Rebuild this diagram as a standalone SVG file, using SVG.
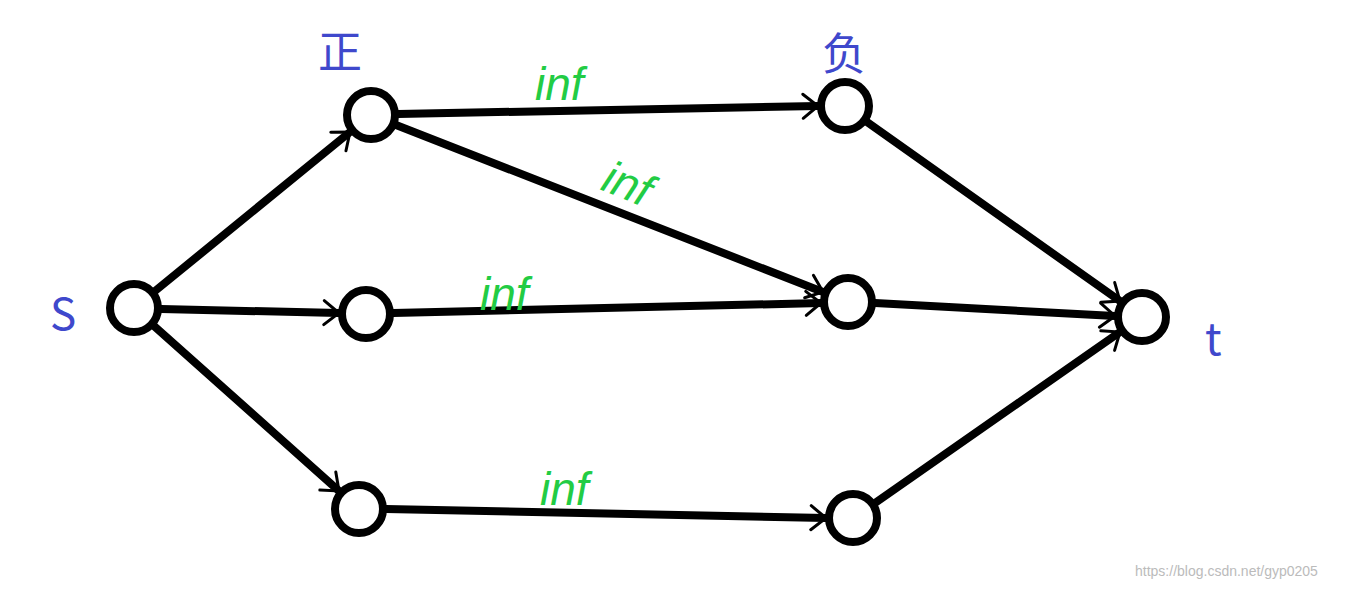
<svg xmlns="http://www.w3.org/2000/svg" width="1350" height="589" viewBox="0 0 1350 589">
<style>
.n{fill:#fff;stroke:#000;stroke-width:8}
.e{stroke:#000;stroke-width:8;fill:none;stroke-linecap:round;marker-end:url(#ah)}
.lb{fill:#3f48cc;font-family:"Noto Sans CJK SC","Liberation Sans",sans-serif;font-size:44px}
.inf{fill:#22cc44;font-family:"Liberation Sans",sans-serif;font-style:italic;font-size:46px}
</style>
<defs>
<marker id="ah" markerUnits="userSpaceOnUse" markerWidth="40" markerHeight="40" viewBox="-20 -20 40 40" refX="0" refY="0" orient="auto">
<path d="M-15,-12 L0,0 L-15,12" fill="none" stroke="#000" stroke-width="3" stroke-linecap="round"/>
</marker>
</defs>
<rect width="1350" height="589" fill="#fff"/>
<g id="edges">
<line class="e" x1="155" y1="291" x2="350" y2="132"/>
<line class="e" x1="161" y1="309" x2="339" y2="313"/>
<line class="e" x1="154" y1="326" x2="339" y2="491"/>
<line class="e" x1="398" y1="114" x2="818" y2="106"/>
<line class="e" x1="396" y1="125" x2="823" y2="292"/>
<line class="e" x1="393" y1="313" x2="821" y2="303"/>
<line class="e" x1="386" y1="509" x2="826" y2="518"/>
<line class="e" x1="867" y1="122" x2="1120" y2="301"/>
<line class="e" x1="875" y1="303" x2="1115" y2="316"/>
<line class="e" x1="875" y1="503" x2="1120" y2="332"/>
<text class="inf" x="535" y="100">inf</text>
<text class="inf" x="600" y="205" transform="rotate(22 640 195)">inf</text>
<text class="inf" x="480" y="310">inf</text>
<text class="inf" x="540" y="505">inf</text>
</g>
<g id="s"><circle class="n" cx="134" cy="308" r="24"/><text class="lb" x="50" y="330">S</text></g>
<g id="zheng"><circle class="n" cx="371" cy="115" r="24"/><text class="lb" x="318" y="68">正</text></g>
<g id="b"><circle class="n" cx="366" cy="314" r="24"/></g>
<g id="c"><circle class="n" cx="359" cy="509" r="24"/></g>
<g id="fu"><circle class="n" cx="845" cy="106" r="24"/><text class="lb" x="822" y="70">负</text></g>
<g id="e"><circle class="n" cx="848" cy="302" r="24"/></g>
<g id="f"><circle class="n" cx="853" cy="518" r="24"/></g>
<g id="t"><circle class="n" cx="1142" cy="317" r="24"/><text class="lb" x="1205" y="355">t</text></g>
<text x="1135" y="576" fill="#bbb" font-family="Liberation Sans,sans-serif" font-size="14">https://blog.csdn.net/gyp0205</text>
</svg>
